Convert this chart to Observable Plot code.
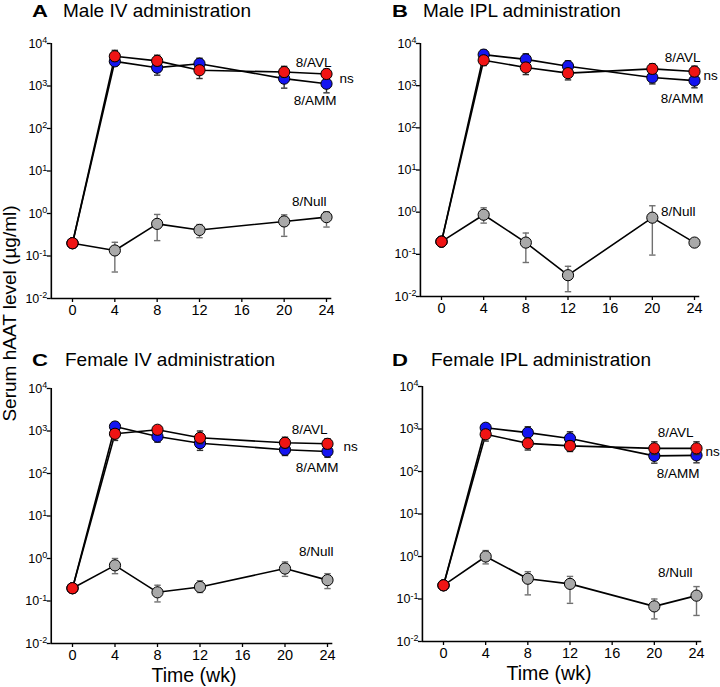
<!DOCTYPE html>
<html><head><meta charset="utf-8">
<script src="https://cdn.jsdelivr.net/npm/d3@7"></script>
<script src="https://cdn.jsdelivr.net/npm/@observablehq/plot@0.6"></script>
<style>
html,body{margin:0;padding:0;background:#fff;}
#root{position:relative;width:720px;height:687px;overflow:hidden;font-family:"Liberation Sans",Arial,sans-serif;}
</style></head><body><div id="root"></div>
<script>
// ---------- data ----------
const weeks = [0, 4, 8, 12, 20, 24];
const xTicks = [0, 4, 8, 12, 16, 20, 24];
const yTicks = [1e-2, 1e-1, 1, 10, 100, 1000, 10000];
const xDomain = [-2, 24.5];
const yDomain = [1e-2, 1e4];
const panelLetters = ["A", "B", "C", "D"];
const panelTitles = ["Male IV administration", "Male IPL administration", "Female IV administration", "Female IPL administration"];
const seriesLabels = ["8/Null", "8/AMM", "8/AVL"];
const nsLabel = "ns";
const xLabel = "Time (wk)";
const yLabel = "Serum hAAT level (µg/ml)";

// panels: A, B, C, D
const avlMean = [
  [0.2, 5000, 3900, 2350, 2130, 1920],
  [0.2, 4000, 2700, 1980, 2500, 2160],
  [0.2, 860, 1070, 692, 527, 500],
  [0.21, 750, 460, 400, 350, 350]
];
const avlHi = [
  [null, 6900, 5300, 3000, 2900, 2500],
  [null, 5000, 3400, 2500, 3300, 2900],
  [null, 1100, 1300, 1000, 715, 660],
  [null, 900, 600, 520, 500, 500]
];
const avlLo = [
  [null, 3800, 3000, 1500, 1600, 1500],
  [null, 3000, 1830, 1370, 1900, 1650],
  [null, 600, 850, 500, 400, 380],
  [null, 520, 320, 295, 250, 250]
];
const ammMean = [
  [0.2, 3800, 2700, 3350, 1490, 1130],
  [0.2, 5450, 4200, 2900, 1560, 1320],
  [0.2, 1275, 740, 516, 361, 330],
  [0.21, 1070, 820, 600, 233, 240]
];
const ammHi = [
  [null, 4700, 3500, 4500, 1900, 1450],
  [null, 7000, 5700, 3900, 2100, 1700],
  [null, 1600, 950, 680, 480, 430],
  [null, 1330, 1130, 860, 300, 310]
];
const ammLo = [
  [null, 3000, 1800, 2500, 890, 690],
  [null, 4500, 3400, 2300, 1100, 890],
  [null, 1000, 545, 350, 265, 240],
  [null, 850, 600, 420, 157, 160]
];
const nullMean = [
  [0.2, 0.135, 0.57, 0.41, 0.65, 0.82],
  [0.2, 0.87, 0.19, 0.032, 0.74, 0.19],
  [0.2, 0.69, 0.16, 0.214, 0.58, 0.31],
  [0.21, 1.0, 0.30, 0.227, 0.067, 0.12]
];
const nullHi = [
  [null, 0.21, 0.95, 0.55, 0.93, 1.1],
  [null, 1.27, 0.32, 0.052, 1.42, null],
  [null, 1.0, 0.235, 0.30, 0.83, 0.44],
  [null, 1.38, 0.44, 0.34, 0.10, 0.196]
];
const nullLo = [
  [null, 0.042, 0.23, 0.27, 0.29, 0.48],
  [null, 0.55, 0.064, 0.013, 0.096, null],
  [null, 0.44, 0.095, 0.158, 0.38, 0.196],
  [null, 0.67, 0.125, 0.079, 0.034, 0.041]
];

// ---------- layout / style ----------
const layout = [
  {left: 0,   top: 0,   w: 360, h: 340, x0: 72,  x24: 326, yTop: 43,  yBot: 298,
   lab: {avl: [5, -11], ns: [13, 5], amm: [10, 17], nul: [0, -15]}},
  {left: 360, top: 0,   w: 360, h: 340, x0: 441, x24: 694, yTop: 43,  yBot: 296,
   lab: {avl: [6, -14], ns: [9, 4], amm: [9, 18], nul: [1, -31]}},
  {left: 0,   top: 340, w: 360, h: 347, x0: 72,  x24: 327, yTop: 388, yBot: 643,
   lab: {avl: [0, -14], ns: [16, 3], amm: [11, 16], nul: [6, -28]}},
  {left: 360, top: 340, w: 360, h: 347, x0: 443, x24: 696, yTop: 386, yBot: 641,
   lab: {avl: [-3, -16], ns: [9, 3], amm: [3, 18], nul: [-4, -23]}}
];
const titlePos = [
  {lx: 32, tx: 63, by: 17}, {lx: 392, tx: 423, by: 17},
  {lx: 32, tx: 65, by: 365.5}, {lx: 392, tx: 431, by: 366}
];
const colors = {avl: "#f01414", amm: "#1414f0", nul: "#a9a9a9"};
const font = "Liberation Sans, Arial, Helvetica, sans-serif";

const powFmt = d => "10^" + Math.round(Math.log10(d));
const capSymbol = {draw(ctx, size) { const w = Math.sqrt(size / Math.PI); ctx.moveTo(-w, 0); ctx.lineTo(w, 0); }};

function rows(i, mean, lo, hi) {
  return weeks.map((t, j) => ({t, v: mean[i][j], lo: lo[i][j], hi: hi[i][j]}));
}

const root = document.getElementById("root");

layout.forEach((L, i) => {
  const avl = rows(i, avlMean, avlLo, avlHi);
  const amm = rows(i, ammMean, ammLo, ammHi);
  const nul = rows(i, nullMean, nullLo, nullHi);
  const u = (L.x24 - L.x0) / 24;
  const axisX = L.x0 + xDomain[0] * u;
  const axisEnd = L.x0 + xDomain[1] * u;
  const mL = axisX - L.left, mR = L.left + L.w - axisEnd;
  const mT = L.yTop - L.top, mB = L.top + L.h - L.yBot;

  const errMarks = (data, stroke) => {
    const e = data.filter(d => d.lo != null && d.hi != null);
    return [
      Plot.ruleX(e, {x: "t", y1: "lo", y2: "hi", stroke, strokeWidth: 1.4}),
      Plot.dot(e, {x: "t", y: "hi", symbol: capSymbol, r: 3.2, stroke, strokeWidth: 1.4}),
      Plot.dot(e, {x: "t", y: "lo", symbol: capSymbol, r: 3.2, stroke, strokeWidth: 1.4})
    ];
  };
  const dotMarks = (data, fill) => Plot.dot(data, {x: "t", y: "v", r: 5.6, fill, stroke: "black", strokeWidth: 1});
  const last = d => [d[d.length - 1]];
  const label = (d, txt, off, anchor) => Plot.text(last(d), {
    x: "t", y: "v", text: () => txt, dx: off[0], dy: off[1], textAnchor: anchor,
    fontSize: 13.5, fill: "black", fontFamily: font
  });

  const chart = Plot.plot({
    width: L.w, height: L.h,
    marginLeft: mL, marginRight: mR, marginTop: mT, marginBottom: mB,
    x: {type: "linear", domain: xDomain},
    y: {type: "log", domain: yDomain},
    style: {fontFamily: font, background: "transparent", overflow: "visible", color: "black"},
    marks: [
      Plot.axisY(yTicks, {anchor: "left", tickFormat: powFmt, tickSize: 4, tickPadding: 0, fontSize: 12.5, label: null, strokeWidth: 1.3}),
      Plot.axisX(xTicks, {anchor: "bottom", tickSize: 4, tickPadding: 2, fontSize: 14.5, label: null, strokeWidth: 1.3}),
      Plot.ruleX([xDomain[0]], {stroke: "black", strokeWidth: 1.6}),
      Plot.ruleY([yDomain[0]], {stroke: "black", strokeWidth: 1.6}),
      Plot.line(nul, {x: "t", y: "v", stroke: "black", strokeWidth: 1.6}),
      Plot.line(amm, {x: "t", y: "v", stroke: "black", strokeWidth: 1.6}),
      Plot.line(avl, {x: "t", y: "v", stroke: "black", strokeWidth: 1.6}),
      ...errMarks(nul, "#707070"),
      dotMarks(nul, colors.nul),
      ...errMarks(amm, "#303030"),
      dotMarks(amm, colors.amm),
      ...errMarks(avl, "#303030"),
      dotMarks(avl, colors.avl),
      label(avl, seriesLabels[2], L.lab.avl, "end"),
      label(avl, nsLabel, L.lab.ns, "start"),
      label(amm, seriesLabels[1], L.lab.amm, "end"),
      label(nul, seriesLabels[0], L.lab.nul, "end")
    ]
  });
  // render powers of ten as base + superscript
  d3.select(chart).selectAll("text").each(function () {
    const s = this.textContent;
    const m = /^10\^(-?\d+)$/.exec(s);
    if (!m) return;
    const t = d3.select(this);
    t.text(null);
    t.append("tspan").text("10");
    t.append("tspan").attr("font-size", 9).attr("dy", "-0.45em").text(m[1].replace("-", "\u2212").replace("\u2212", "-"));
  });
  chart.style.position = "absolute";
  chart.style.left = L.left + "px";
  chart.style.top = L.top + "px";
  root.appendChild(chart);
});

// ---------- overlay text ----------
const ov = d3.select(root).append("svg")
  .attr("width", 720).attr("height", 687)
  .style("position", "absolute").style("left", "0px").style("top", "0px")
  .style("pointer-events", "none")
  .attr("font-family", font);

titlePos.forEach((p, i) => {
  ov.append("text").attr("transform", `translate(${p.lx},${p.by}) scale(1.3,1)`)
    .attr("font-size", 17).attr("font-weight", "bold").text(panelLetters[i]);
  ov.append("text").attr("x", p.tx).attr("y", p.by).attr("font-size", 19).text(panelTitles[i]);
});
[[194, 682], [549, 680]].forEach(([x, y]) => {
  ov.append("text").attr("x", x).attr("y", y).attr("font-size", 19.5)
    .attr("text-anchor", "middle").text(xLabel);
});
ov.append("text").attr("transform", "translate(16,313.5) rotate(-90)")
  .attr("font-size", 19).attr("text-anchor", "middle").text(yLabel);
</script>
</body></html>
